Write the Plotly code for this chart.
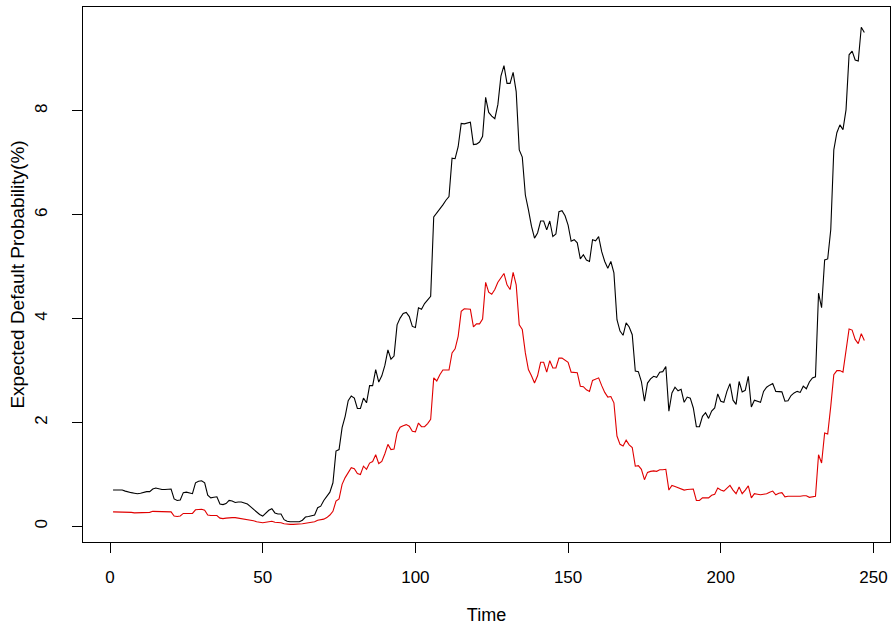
import plotly.graph_objects as go

time = list(range(1, 248))

upper = [
    0.70, 0.70, 0.69, 0.70, 0.68, 0.66, 0.65, 0.64, 0.63, 0.64,
    0.66, 0.67, 0.67, 0.72, 0.74, 0.72, 0.71, 0.71, 0.72, 0.72,
    0.53, 0.50, 0.51, 0.65, 0.66, 0.64, 0.63, 0.84, 0.87, 0.88,
    0.84, 0.60, 0.55, 0.56, 0.57, 0.43, 0.42, 0.44, 0.50, 0.49,
    0.46, 0.47, 0.47, 0.45, 0.43, 0.38, 0.33, 0.27, 0.23, 0.20,
    0.26, 0.31, 0.34, 0.26, 0.24, 0.24, 0.13, 0.10, 0.09, 0.09,
    0.09, 0.09, 0.12, 0.18, 0.19, 0.20, 0.22, 0.36, 0.39, 0.50,
    0.58, 0.66, 0.84, 1.45, 1.48, 1.90, 2.12, 2.42, 2.51, 2.47,
    2.27, 2.27, 2.47, 2.38, 2.71, 2.71, 3.02, 2.78, 2.90, 3.10,
    3.40, 3.22, 3.28, 3.88, 4.01, 4.10, 4.12, 4.04, 3.85, 3.83,
    4.21, 4.18, 4.29, 4.36, 4.43, 5.96, 6.03, 6.10, 6.19, 6.28,
    6.35, 7.09, 7.08, 7.31, 7.76, 7.75, 7.76, 7.78, 7.35, 7.36,
    7.40, 7.51, 8.26, 7.97, 7.90, 7.85, 8.12, 8.67, 8.87, 8.53,
    8.53, 8.74, 8.37, 7.25, 7.11, 6.38, 6.10, 5.78, 5.55, 5.65,
    5.88, 5.88, 5.71, 5.88, 5.58, 5.63, 6.06, 6.08, 5.98, 5.80,
    5.49, 5.52, 5.46, 5.15, 5.23, 5.13, 5.10, 5.52, 5.50, 5.58,
    5.29, 5.10, 4.97, 5.10, 4.88, 3.98, 3.76, 3.68, 3.92, 3.84,
    3.69, 2.99, 2.98, 2.79, 2.41, 2.76, 2.84, 2.89, 2.87, 2.97,
    2.98, 3.08, 2.22, 2.57, 2.68, 2.61, 2.64, 2.39, 2.49, 2.47,
    2.28, 1.92, 1.92, 2.12, 2.19, 2.08, 2.22, 2.28, 2.55, 2.41,
    2.39, 2.60, 2.75, 2.43, 2.35, 2.79, 2.59, 2.62, 2.89, 2.30,
    2.43, 2.41, 2.39, 2.60, 2.68, 2.72, 2.75, 2.60, 2.60, 2.59,
    2.41, 2.42, 2.52, 2.57, 2.60, 2.58, 2.70, 2.65, 2.78, 2.86,
    2.88, 4.49, 4.21, 5.13, 5.15, 5.71, 7.25, 7.58, 7.73, 7.64,
    8.02, 9.08, 9.15, 8.98, 8.96, 9.61, 9.51,
]

lower = [
    0.28, 0.28, 0.28, 0.28, 0.27, 0.27, 0.27, 0.26, 0.26, 0.26,
    0.27, 0.27, 0.27, 0.29, 0.29, 0.28, 0.28, 0.28, 0.28, 0.28,
    0.20, 0.19, 0.20, 0.25, 0.25, 0.25, 0.25, 0.32, 0.33, 0.33,
    0.31, 0.22, 0.21, 0.21, 0.21, 0.16, 0.15, 0.16, 0.17, 0.17,
    0.17, 0.16, 0.16, 0.15, 0.14, 0.12, 0.11, 0.09, 0.08, 0.07,
    0.08, 0.09, 0.10, 0.08, 0.08, 0.07, 0.05, 0.04, 0.04, 0.04,
    0.04, 0.05, 0.05, 0.06, 0.07, 0.07, 0.09, 0.12, 0.13, 0.14,
    0.17, 0.22, 0.29, 0.49, 0.53, 0.81, 0.94, 1.03, 1.13, 1.11,
    1.02, 1.00, 1.16, 1.10, 1.22, 1.25, 1.38, 1.21, 1.25, 1.40,
    1.58, 1.48, 1.49, 1.80, 1.91, 1.94, 1.96, 1.93, 1.83, 1.82,
    1.99, 1.92, 1.92, 1.98, 2.06, 2.86, 2.80, 2.92, 3.01, 3.01,
    3.01, 3.34, 3.42, 3.66, 4.14, 4.19, 4.18, 4.18, 3.84, 3.90,
    3.90, 3.99, 4.70, 4.51, 4.47, 4.56, 4.70, 4.78, 4.87, 4.65,
    4.56, 4.89, 4.65, 3.88, 3.79, 3.34, 3.02, 2.90, 2.76, 2.90,
    3.16, 3.16, 2.97, 3.19, 3.05, 3.05, 3.24, 3.24, 3.20, 3.16,
    2.97, 2.97, 2.96, 2.70, 2.69, 2.63, 2.60, 2.81, 2.84, 2.86,
    2.71, 2.58, 2.49, 2.50, 2.38, 1.74, 1.58, 1.55, 1.66, 1.57,
    1.52, 1.16, 1.17, 1.10, 0.90, 1.04, 1.06, 1.07, 1.06, 1.09,
    1.09, 1.10, 0.70, 0.79, 0.77, 0.75, 0.72, 0.70, 0.71, 0.71,
    0.72, 0.50, 0.50, 0.55, 0.55, 0.55, 0.60, 0.62, 0.74, 0.70,
    0.68, 0.74, 0.79, 0.70, 0.63, 0.76, 0.63, 0.70, 0.78, 0.55,
    0.63, 0.62, 0.61, 0.62, 0.63, 0.66, 0.68, 0.61, 0.64, 0.65,
    0.57, 0.58, 0.58, 0.57, 0.58, 0.58, 0.59, 0.59, 0.56, 0.57,
    0.58, 1.38, 1.22, 1.80, 1.78, 2.31, 2.92, 3.00, 3.00, 2.97,
    3.34, 3.80, 3.78, 3.60, 3.52, 3.71, 3.58,
]

x_ticks = [0, 50, 100, 150, 200, 250]
y_ticks = [0, 2, 4, 6, 8]

fig = go.Figure()
fig.add_trace(go.Scatter(x=time, y=upper, mode="lines",
                         line=dict(color="black", width=1.1), showlegend=False))
fig.add_trace(go.Scatter(x=time, y=lower, mode="lines",
                         line=dict(color="#e00000", width=1.1), showlegend=False))

font_family = "Liberation Sans, Arial, sans-serif"

fig.update_layout(
    width=896, height=628,
    margin=dict(l=83, r=6, t=7, b=86),
    paper_bgcolor="white", plot_bgcolor="white",
    font=dict(family=font_family, size=17, color="black"),
    xaxis=dict(
        range=[-8.84, 255.4], tickvals=x_ticks, ticktext=[str(v) for v in x_ticks],
        showline=True, mirror=True, linecolor="black", linewidth=1,
        ticks="outside", ticklen=10, tickcolor="black", tickwidth=1,
        ticklabelstandoff=10,
        showgrid=False, zeroline=False,
        title=dict(text="Time", standoff=21, font=dict(size=18)),
        tickfont=dict(size=17),
    ),
    yaxis=dict(
        range=[-0.30, 10.0], tickvals=y_ticks, ticktext=[str(v) for v in y_ticks],
        showline=True, mirror=True, linecolor="black", linewidth=1,
        ticks="outside", ticklen=10, tickcolor="black", tickwidth=1,
        tickangle=-90, ticklabelstandoff=18,
        showgrid=False, zeroline=False,
        title=dict(text="Expected Default Probability(%)", standoff=2, font=dict(size=19)),
        tickfont=dict(size=17),
    ),
)

fig.write_html("out.html")
